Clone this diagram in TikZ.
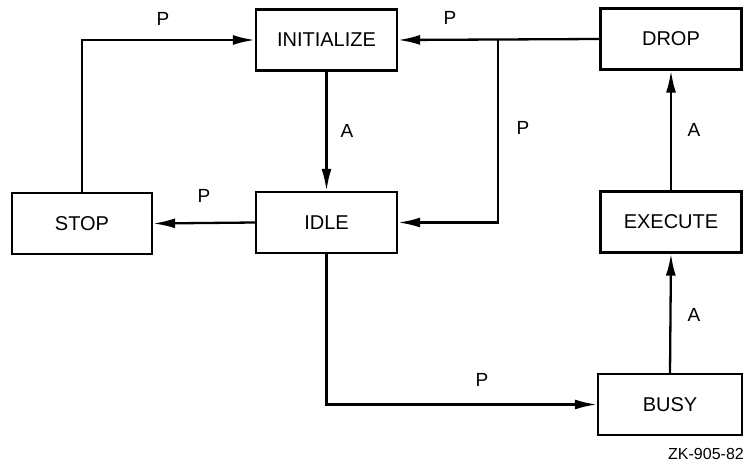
\documentclass[tikz,border=0pt]{standalone}
\usepackage{fontspec}
\setmainfont{Liberation Sans}
\usetikzlibrary{arrows.meta}
\begin{document}
\begin{tikzpicture}[x=1pt,y=-1pt,
  statebox/.style={draw,line width=2.3pt,minimum width=141pt,minimum height=61pt,inner sep=0pt,font=\fontsize{20}{23}\selectfont},
  conn/.style={line width=2.3pt,-{Latex[length=22pt,width=10pt]}},
  lbl/.style={font=\fontsize{19}{22}\selectfont,inner sep=0pt}]
\useasboundingbox (0,0) rectangle (744,473);
\node[statebox] (init) at (326.5,40) {INITIALIZE};
\node[statebox] (drop) at (671,39) {DROP};
\node[statebox,minimum width=140pt] (stop) at (82,223.5) {STOP};
\node[statebox] (idle) at (326.5,222.5) {IDLE};
\node[statebox] (exec) at (671,222) {EXECUTE};
\node[statebox,minimum width=144pt] (busy) at (670,404.5) {BUSY};
\coordinate (br) at (498,39);
\draw[conn] (stop.north) |- (init.west);
\draw[conn] (init.south) -- (idle.north);
\draw[conn] (idle.west) -- (stop.east);
\draw[conn] (drop.west) -- (init.east);
\draw[conn] (br) |- (idle.east);
\draw[conn] (idle.south) |- (busy.west);
\draw[conn] (busy.north) -- (exec.south);
\draw[conn] (exec.north) -- (drop.south);
\node[lbl] (l1) at (163,19) {P};
\node[lbl] (l2) at (204,196) {P};
\node[lbl] (l3) at (450,18) {P};
\node[lbl] (l4) at (347,131) {A};
\node[lbl] (l5) at (523,128) {P};
\node[lbl] (l6) at (694,130) {A};
\node[lbl] (l7) at (694,315) {A};
\node[lbl] (l8) at (482,380) {P};
\node[font=\fontsize{16}{19}\selectfont,inner sep=0pt] (cap) at (706,454) {ZK-905-82};
\end{tikzpicture}
\end{document}
